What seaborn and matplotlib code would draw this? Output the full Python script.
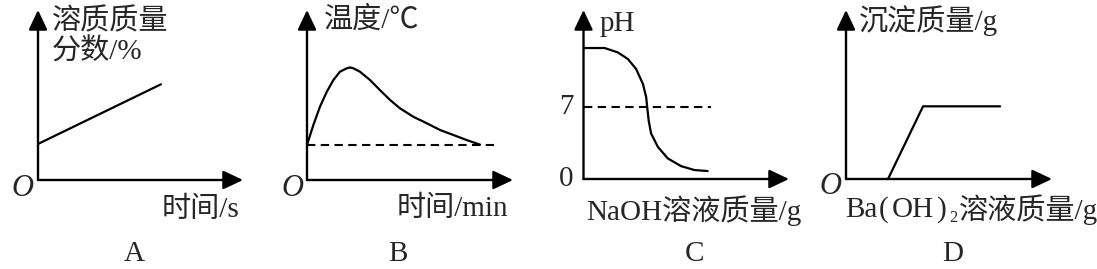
import matplotlib
matplotlib.use("Agg")
import matplotlib.pyplot as plt
import seaborn as sns

sns.set_theme(style="white")
plt.rcParams["font.family"] = ["Liberation Serif", "Noto Sans CJK SC", "DejaVu Serif"]

# ---------------- data ----------------
# Panel A: solute mass fraction vs time
a_x = [0.0, 6.0]
a_y = [2.12, 5.63]

# Panel B: temperature vs time
b_x = [0.0, 0.31, 0.63, 0.96, 1.28, 1.60, 1.93, 2.09, 2.25, 2.57, 3.06, 3.54, 4.03,
       4.51, 5.16, 5.81, 6.46, 7.10, 7.75, 8.40]
b_y = [2.06, 3.24, 4.31, 5.19, 5.88, 6.37, 6.57, 6.62, 6.57, 6.37, 5.88, 5.29, 4.71,
       4.22, 3.72, 3.34, 2.94, 2.65, 2.35, 2.08]
b_ref_x = [0.0, 9.2]
b_ref_y = [2.06, 2.06]

# Panel C: pH vs NaOH solution mass
c_x = [0.0, 1.03, 1.67, 2.16, 2.56, 2.89, 3.05, 3.10, 3.17, 3.29, 3.62, 4.10, 4.75, 5.40, 6.04]
c_y = [7.75, 7.75, 7.49, 7.10, 6.51, 5.63, 4.84, 4.25, 3.47, 2.69, 1.90, 1.22, 0.76, 0.53, 0.47]
c_ref_x = [0.0, 6.19]
c_ref_y = [4.25, 4.25]
c_ticks = [0, 4.25]
c_ticklabels = ["0", "7"]

# Panel D: precipitate mass vs Ba(OH)2 solution mass
d_x = [2.04, 3.74, 7.48]
d_y = [0.0, 4.3, 4.3]

panel_letters = ["A", "B", "C", "D"]
y_labels = ["溶质质量", "分数/%", "温度/℃", "pH", "沉淀质量/g"]
x_labels = ["时间/s", "时间/min", "NaOH溶液质量/g"]
d_xlabel_parts = ["Ba", "(", "OH", ")", "2", "溶液质量/g"]

# ---------------- layout ----------------
W, H = 1097, 269
fig = plt.figure(figsize=(W / 100, H / 100), dpi=100)
fig.patch.set_facecolor("white")

# origin (px), x-arrow tip (px), y-arrow tip (px)
geom = [
    ((38, 180), 243, 10),
    ((307, 180), 513, 10),
    ((583.5, 179), 789, 10),
    ((846, 179), 1052, 10),
]

def fx(px):
    return px / W

def fy(py):
    return 1 - py / H

axes = []
for (ox, oy), xt, yt in geom:
    ax = fig.add_axes([fx(ox), fy(oy), (xt - ox) / W, (oy - yt) / H])
    ax.set_xlim(0, 10)
    ax.set_ylim(0, 10)
    ax.axis("off")
    arrow = dict(arrowstyle="-|>,head_length=0.55,head_width=0.26", lw=1.7, color="black",
                 shrinkA=0, shrinkB=0, mutation_scale=22)
    ax.annotate("", xy=(10, 0), xytext=(0, 0), arrowprops=arrow, annotation_clip=False)
    ax.annotate("", xy=(0, 10), xytext=(0, 0), arrowprops=arrow, annotation_clip=False)
    axes.append(ax)

LW = 1.6
dash = dict(color="black", lw=1.5, dashes=(4, 2.6))

sns.lineplot(x=a_x, y=a_y, ax=axes[0], color="black", lw=LW, sort=False)
sns.lineplot(x=b_x, y=b_y, ax=axes[1], color="black", lw=LW, sort=False)
axes[1].plot(b_ref_x, b_ref_y, **dash)
sns.lineplot(x=c_x, y=c_y, ax=axes[2], color="black", lw=LW, sort=False)
axes[2].plot(c_ref_x, c_ref_y, **dash)
sns.lineplot(x=d_x, y=d_y, ax=axes[3], color="black", lw=LW, sort=False)

for ax in axes:
    ax.set_xlabel("")
    ax.set_ylabel("")

FS = 21

# C tick labels
for t, lab in zip(c_ticks, c_ticklabels):
    axes[2].text(-0.5, t, lab, ha="right", va="center", fontsize=FS, clip_on=False)

# origins "O"
for (px, py) in [(22, 188), (292, 188), (830, 186)]:
    fig.text(fx(px), fy(py), "O", ha="center", va="center", fontsize=FS + 1, style="italic")

# y labels
fig.text(fx(52), fy(22), y_labels[0], ha="left", va="center", fontsize=FS)
fig.text(fx(52), fy(52), y_labels[1], ha="left", va="center", fontsize=FS)
fig.text(fx(324), fy(20), y_labels[2], ha="left", va="center", fontsize=FS)
fig.text(fx(600), fy(24), y_labels[3], ha="left", va="center", fontsize=FS)
fig.text(fx(859), fy(21), y_labels[4], ha="left", va="center", fontsize=FS)

# x labels
fig.text(fx(162), fy(210), x_labels[0], ha="left", va="center", fontsize=FS)
fig.text(fx(397), fy(209), x_labels[1], ha="left", va="center", fontsize=FS)
fig.text(fx(586), fy(211), x_labels[2], ha="left", va="center", fontsize=FS)

# D x label built from pieces (wide parentheses, subscript 2)
renderer = fig.canvas.get_renderer()
x = 845
sizes = [FS, FS, FS, FS, 12, FS]
dys = [0, 0, 0, 0, 8, 0]
gaps = [0, 1.5, 1.5, 1.5, 1.5, 0]
for part, size, dy, gap in zip(d_xlabel_parts, sizes, dys, gaps):
    t = fig.text(fx(x + gap), fy(210 + dy), part, ha="left", va="center", fontsize=size)
    bb = t.get_window_extent(renderer)
    x = bb.x1 + gap

# panel letters
for px, lab in zip([134.5, 398, 695, 953], panel_letters):
    fig.text(fx(px), fy(254), lab, ha="center", va="center", fontsize=FS)

fig.savefig("out.png", dpi=100, facecolor="white")
